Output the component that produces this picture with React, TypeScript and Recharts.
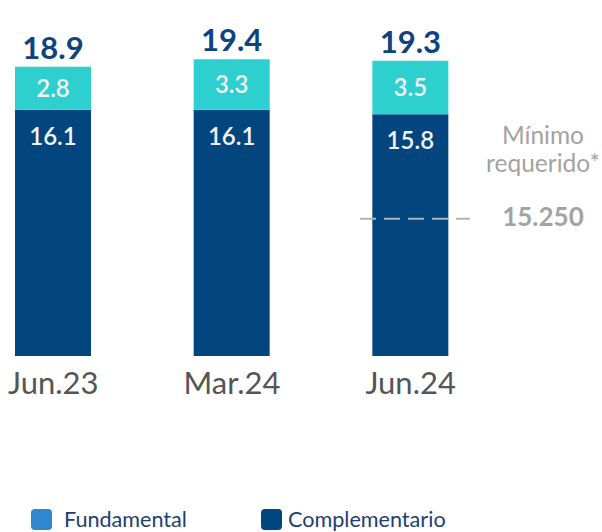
import { BarChart, Bar, XAxis, YAxis, Legend, LabelList, ReferenceLine } from 'recharts';

const CATEGORIES = ['Jun.23', 'Mar.24', 'Jun.24'];
const FUNDAMENTAL = [2.8, 3.3, 3.5];
const COMPLEMENTARIO = [16.1, 16.1, 15.8];
const TOTALS = [18.9, 19.4, 19.3];
const MINIMO_REQUERIDO = 15250;

const C = {
  dark: '#02457f',
  cyan: '#2ecfcf',
  legendFund: '#2f88cf',
  total: '#0d4380',
  axis: '#555555',
  ref: '#b3b3b3',
  refText: '#a3a3a3',
  legendText: '#1c3f73',
};

const FONT = 'Lato, "Open Sans", sans-serif';

const data = CATEGORIES.map((name, i) => ({
  name,
  complementario: COMPLEMENTARIO[i],
  fundamental: FUNDAMENTAL[i],
  total: TOTALS[i],
}));

const fmt = (v: any) => Number(v).toFixed(1);

// the minimum is drawn only over the last bar and a bit of the gap to its right
function RefShape(props: any) {
  const { x1, x2, y1 } = props;
  const right = Math.max(x1, x2);
  return (
    <line
      x1={right - 140}
      x2={right - 30}
      y1={y1}
      y2={y1}
      stroke={C.ref}
      strokeWidth={2}
      strokeDasharray="16 8"
    />
  );
}

function RefLabel(props: any) {
  const { viewBox } = props;
  const cx = viewBox.x + viewBox.width + 43;
  const y = viewBox.y;
  return (
    <g fontFamily={FONT} textAnchor="middle">
      <text x={cx} y={y - 75} fill={C.refText} fontSize={24.5}>Mínimo</text>
      <text x={cx} y={y - 47} fill={C.refText} fontSize={24.5}>requerido*</text>
      <text x={cx} y={y + 7} fill={C.refText} fontSize={26} fontWeight={700}>
        {MINIMO_REQUERIDO.toLocaleString('de-DE')}
      </text>
    </g>
  );
}

const LEGEND_ITEMS = [
  { label: 'Fundamental', color: C.legendFund, width: 230 },
  { label: 'Complementario', color: C.dark, width: 230 },
];

function LegendContent() {
  return (
    <div style={{ display: 'flex', alignItems: 'center', fontFamily: FONT }}>
      {LEGEND_ITEMS.map((it) => (
        <div key={it.label} style={{ display: 'flex', alignItems: 'center', width: it.width }}>
          <span
            style={{ width: 21, height: 21, borderRadius: 4, background: it.color, display: 'inline-block', marginRight: it.label === 'Fundamental' ? 12 : 6 }}
          />
          <span style={{ fontSize: 21.6, color: C.legendText }}>{it.label}</span>
        </div>
      ))}
    </div>
  );
}

export default function App() {
  return (
    <div style={{ position: 'absolute', left: -36, top: 0, width: 638, height: 532 }}>
      <BarChart
        width={638}
        height={532}
        data={data}
        margin={{ top: 50, right: 102, left: 0, bottom: 0 }}
      >
        <XAxis
          dataKey="name"
          axisLine={false}
          tickLine={false}
          tickSize={0}
          tickMargin={16}
          height={150}
          tick={{ fontSize: 31, fill: C.axis, fontFamily: FONT }}
          interval={0}
        />
        <YAxis yAxisId="left" hide domain={[0, 20]} />
        <YAxis yAxisId="right" hide orientation="right" type="number" domain={[0, 34000]} allowDataOverflow />
        <Legend verticalAlign="bottom" content={<LegendContent />} wrapperStyle={{ left: 67, width: 500, height: 26 }} />
        <Bar yAxisId="left" dataKey="complementario" stackId="a" fill={C.dark} barSize={76} isAnimationActive={false}>
          <LabelList
            dataKey="complementario"
            position="insideTop"
            offset={18}
            formatter={fmt}
            style={{ fill: '#f2f2f2', fontSize: 24, fontWeight: 600, fontFamily: FONT }}
          />
        </Bar>
        <Bar yAxisId="left" dataKey="fundamental" stackId="a" fill={C.cyan} barSize={76} isAnimationActive={false}>
          <LabelList
            dataKey="fundamental"
            position="center"
            formatter={fmt}
            style={{ fill: '#f2f2f2', fontSize: 24, fontWeight: 600, fontFamily: FONT }}
          />
          <LabelList
            dataKey="total"
            position="top"
            offset={8}
            formatter={fmt}
            style={{ fill: C.total, fontSize: 31, fontWeight: 700, fontFamily: FONT }}
          />
        </Bar>
        <ReferenceLine
          yAxisId="right"
          y={MINIMO_REQUERIDO}
          ifOverflow="visible"
          shape={<RefShape />}
          label={<RefLabel />}
        />
      </BarChart>
    </div>
  );
}
